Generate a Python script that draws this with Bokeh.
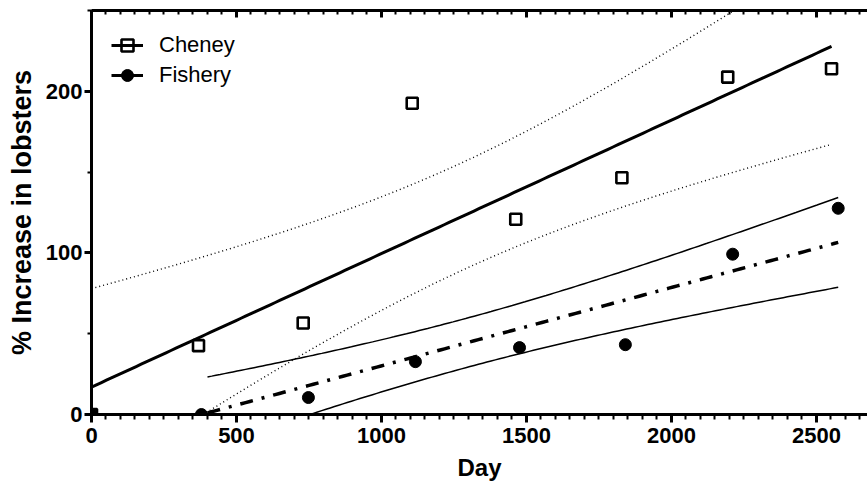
import numpy as np
from bokeh.plotting import figure
from bokeh.models import (Range1d, LinearAxis, SingleIntervalTicker, Legend,
                          LegendItem, ColumnDataSource, CustomJSTickFormatter)
from bokeh.embed import file_html
from bokeh.resources import INLINE

# ---- data ----
cheney_day = [0, 369, 730, 1106, 1463, 1829, 2194, 2552]
cheney_pct = [0, 42.6, 56.6, 192.6, 120.8, 146.5, 208.8, 214.0]
fishery_day = [0, 379, 748, 1117, 1476, 1841, 2211, 2575]
fishery_pct = [0, 0.0, 10.5, 32.7, 41.4, 43.2, 99.2, 127.6]
x_ticks = [0, 500, 1000, 1500, 2000, 2500]
y_ticks = [0, 100, 200]
series = ["Cheney", "Fishery"]
fishery_fit_start = 400
T95_DF6 = 2.446912  # Student t, 95% two-sided, 6 d.f. (n = 8)

FONT = "Liberation Sans"


def fit_band(x, y, x0, x1, n=150):
    """Linear regression with its 95% confidence band."""
    x = np.asarray(x, float)
    y = np.asarray(y, float)
    xm, ym = x.mean(), y.mean()
    sxx = ((x - xm) ** 2).sum()
    b = ((x - xm) * (y - ym)).sum() / sxx
    a = ym - b * xm
    resid = y - (a + b * x)
    s = np.sqrt((resid ** 2).sum() / (len(x) - 2))
    xs = np.linspace(x0, x1, n)
    fit = a + b * xs
    half = T95_DF6 * s * np.sqrt(1.0 / len(x) + (xs - xm) ** 2 / sxx)
    return dict(x=xs, fit=fit, lo=fit - half, hi=fit + half)


ch = ColumnDataSource(fit_band(cheney_day, cheney_pct, 0, max(cheney_day)))
fi = ColumnDataSource(fit_band(fishery_day, fishery_pct, fishery_fit_start, max(fishery_day)))

p = figure(width=867, height=489,
           x_range=Range1d(0, 2676), y_range=Range1d(0, 250),
           output_backend="svg", toolbar_location=None,
           min_border_left=91, min_border_right=0, min_border_top=10,
           min_border_bottom=75,
           x_axis_label="Day", y_axis_label="% Increase in lobsters")
p.grid.visible = False
p.outline_line_color = None
p.background_fill_color = "white"
p.border_fill_color = "white"

xt = SingleIntervalTicker(interval=x_ticks[1] - x_ticks[0], num_minor_ticks=10)
yt = SingleIntervalTicker(interval=y_ticks[1] - y_ticks[0], num_minor_ticks=2)

for ax in (p.xaxis[0], p.yaxis[0]):
    ax.axis_line_width = 3
    ax.axis_line_color = "black"
    ax.major_tick_line_width = 3
    ax.minor_tick_line_width = 2
    ax.major_tick_in = 0
    ax.minor_tick_in = 0
    ax.major_label_text_font = FONT
    ax.major_label_text_font_style = "bold"
    ax.major_label_text_font_size = "22px"
    ax.major_label_text_color = "black"
    ax.axis_label_text_font = FONT
    ax.axis_label_text_font_style = "bold"
    ax.axis_label_text_color = "black"

p.xaxis[0].ticker = xt
p.xaxis[0].major_tick_out = 8
p.xaxis[0].minor_tick_out = 5
p.xaxis[0].major_label_standoff = 5
p.xaxis[0].axis_label_text_font_size = "24px"
p.xaxis[0].axis_label_standoff = 8

p.yaxis[0].ticker = yt
p.yaxis[0].major_tick_out = 7
p.yaxis[0].minor_tick_out = 4
p.yaxis[0].major_label_standoff = 2
p.yaxis[0].axis_label_text_font_size = "27px"
p.yaxis[0].axis_label_standoff = 6

top = LinearAxis(ticker=xt, axis_line_width=3, axis_line_color="black",
                 major_tick_in=7, major_tick_out=0, minor_tick_in=4, minor_tick_out=0,
                 major_tick_line_width=3, minor_tick_line_width=2,
                 formatter=CustomJSTickFormatter(code="return ''"),
                 major_label_standoff=0)
p.add_layout(top, "above")

# Cheney regression and band
p.line("x", "hi", source=ch, line_color="black", line_width=1.4, line_dash="1 3")
p.line("x", "lo", source=ch, line_color="black", line_width=1.4, line_dash="1 3")
ch_fit = p.line("x", "fit", source=ch, line_color="black", line_width=3)

# Fishery regression and band
p.line("x", "hi", source=fi, line_color="black", line_width=1.5)
p.line("x", "lo", source=fi, line_color="black", line_width=1.5)
p.line("x", "fit", source=fi, line_color="black", line_width=3.5, line_dash="13 9 3 9")

sq = p.scatter(cheney_day, cheney_pct, marker="square", size=11,
               fill_color="white", line_color="black", line_width=2.6)
ci = p.scatter(fishery_day, fishery_pct, marker="circle", size=12,
               fill_color="black", line_color="black", line_width=1)

legend = Legend(items=[LegendItem(label=series[0], renderers=[sq, ch_fit]),
                       LegendItem(label=series[1], renderers=[ch_fit, ci])],
                location="top_left", margin=20, padding=10,
                glyph_width=32, glyph_height=30, label_standoff=16, spacing=0,
                label_text_font=FONT, label_text_font_size="22px",
                label_text_color="black",
                border_line_color=None, background_fill_alpha=0)
p.add_layout(legend)

open("out.html", "w").write(file_html(p, INLINE))
